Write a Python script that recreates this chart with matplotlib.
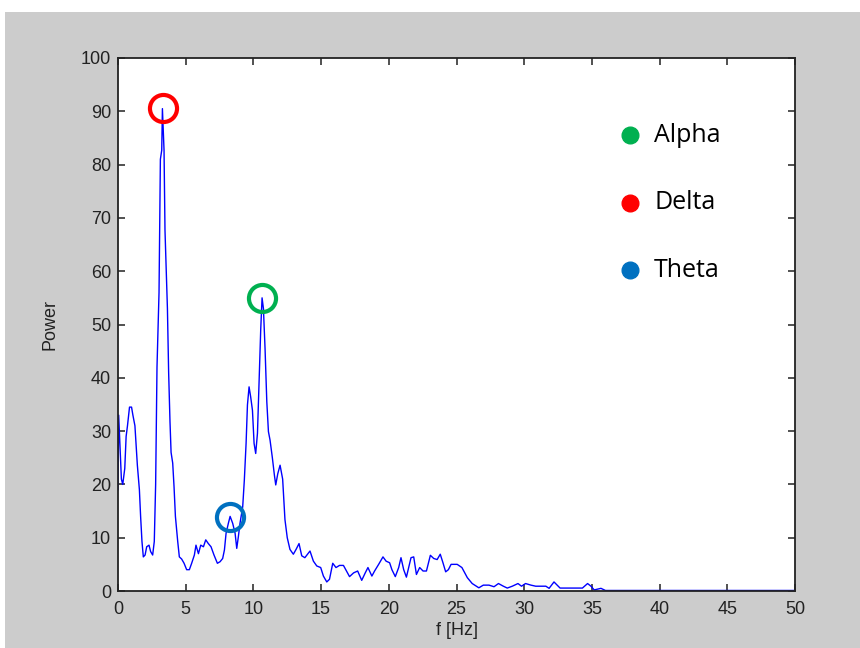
import matplotlib.pyplot as plt
from matplotlib.patches import Rectangle

# spectrum (Hz, power)
freq = [0.0, 0.05, 0.15, 0.25, 0.35, 0.5, 0.6, 0.7, 0.85, 1.0, 1.1, 1.25, 1.33, 1.43,
        1.58, 1.67, 1.77, 1.87, 2.0, 2.12, 2.29, 2.41, 2.56, 2.68, 2.78, 2.88, 3.03,
        3.13, 3.23, 3.28, 3.4, 3.47, 3.65, 3.74, 3.84, 3.92, 4.04, 4.14, 4.24, 4.41,
        4.53, 4.7, 4.88, 5.07, 5.27, 5.44, 5.64, 5.76, 5.94, 6.11, 6.31, 6.48, 6.67,
        6.87, 7.09, 7.34, 7.54, 7.73, 7.86, 7.98, 8.15, 8.28, 8.47, 8.65, 8.77, 8.89,
        9.01, 9.21, 9.33, 9.46, 9.56, 9.68, 9.8, 9.93, 10.05, 10.17, 10.3, 10.42,
        10.54, 10.64, 10.74, 10.86, 10.99, 11.11, 11.23, 11.4, 11.55, 11.65, 11.8,
        11.97, 12.16, 12.33, 12.5, 12.7, 12.95, 13.15, 13.37, 13.57, 13.8, 14.18,
        14.43, 14.68, 14.97, 15.17, 15.42, 15.62, 15.86, 16.1, 16.36, 16.65, 17.1,
        17.4, 17.7, 18.0, 18.26, 18.46, 18.75, 18.95, 19.25, 19.57, 19.8, 20.06,
        20.23, 20.48, 20.73, 20.9, 21.1, 21.3, 21.47, 21.64, 21.84, 22.04, 22.28,
        22.53, 22.78, 23.07, 23.32, 23.57, 23.8, 24.0, 24.2, 24.4, 24.6, 25.05,
        25.4, 25.8, 26.16, 26.65, 26.98, 27.4, 27.77, 28.1, 28.46, 28.75, 29.12,
        29.54, 29.8, 30.1, 30.5, 30.85, 31.6, 31.84, 32.2, 32.65, 33.44, 34.3,
        34.68, 34.93, 35.17, 35.67, 36.0, 40.0, 45.0, 50.0]
power = [19, 33, 27, 21, 20, 23, 29, 31, 34.5, 34.5, 33, 31, 27.7, 23.6,
         19, 14, 9.3, 6.4, 6.75, 8.3, 8.6, 7.4, 6.75, 9.3, 20, 42, 56,
         81, 82.7, 90.5, 82.7, 67.7, 53, 41, 31.75, 26, 24, 19.5, 14, 9.3,
         6.4, 6, 5.2, 4, 4, 5.2, 6.75, 8.6, 7, 8.6, 8.3, 9.6, 8.9,
         8.3, 6.75, 5.2, 5.5, 6.1, 7.7, 10.8, 12.7, 14, 12.7, 10.8, 8, 10.2,
         12.7, 15.8, 20.8, 27.7, 34.9, 38.3, 36.4, 33.9, 27.7, 25.8, 29.6, 39,
         49, 55, 53, 45.5, 35.5, 29.9, 28.3, 25, 21.75, 19.9, 22,
         23.6, 21, 13.4, 10, 7.8, 6.9, 7.8, 8.9, 6.6, 6.25, 7.5,
         5.6, 4.7, 4.4, 2.8, 1.7, 2.2, 5.2, 4.4, 4.8, 4.8, 2.7,
         3.4, 3.75, 2, 3.4, 4.4, 2.8, 3.75, 5, 6.4, 5.6, 5.3,
         4, 2.7, 4.4, 6.25, 4, 2.6, 4.4, 6.25, 6.4, 3.1, 4.4,
         3.75, 3.75, 6.7, 6.1, 5.9, 6.9, 5.3, 3.6, 4, 5, 5,
         4.4, 2.5, 1.4, 0.6, 1.1, 1.1, 0.8, 1.4, 0.9, 0.55, 0.9,
         1.4, 0.9, 1.4, 1.1, 0.9, 0.9, 0.5, 1.7, 0.55, 0.55, 0.55,
         1.4, 0.9, 0.2, 0.5, 0.1, 0.1, 0.1, 0.1]

# marked peaks: band, (Hz, power), colour
bands = ['Alpha', 'Delta', 'Theta']
peak_f = [10.63, 3.32, 8.27]
peak_p = [55, 90.6, 13.9]
band_colors = ['#00b050', '#ff0000', '#0070c0']

fig = plt.figure(figsize=(8.6, 6.48), dpi=100)
fig.patch.set_facecolor('white')
# grey matlab figure background
fig.patches.append(Rectangle((5 / 860, 0), 1, 1 - 12 / 648, transform=fig.transFigure,
                             facecolor='#cccccc', edgecolor='none', zorder=-10))

ax = fig.add_axes([118 / 860, 1 - 591 / 648, (795 - 118) / 860, (591 - 58) / 648])
ax.plot(freq, power, color='#0000ff', lw=1.0)

for f, p, c in zip(peak_f, peak_p, band_colors):
    ax.plot(f, p, 'o', ms=19.5, mfc='none', mec=c, mew=3, zorder=5)

ax.set_xlim(0, 50)
ax.set_ylim(0, 100)
ax.set_xticks(range(0, 51, 5))
ax.set_yticks(range(0, 101, 10))

tick_font = {'family': ['Liberation Sans', 'DejaVu Sans'], 'size': 13}
ax.set_xticklabels([str(v) for v in range(0, 51, 5)], fontdict=tick_font, color='#222222')
ax.set_yticklabels([str(v) for v in range(0, 101, 10)], fontdict=tick_font, color='#222222')
ax.tick_params(direction='in', top=True, right=True, length=5, width=1.2, color='#333333')
ax.tick_params(axis='x', pad=7)
ax.tick_params(axis='y', pad=5)
for s in ax.spines.values():
    s.set_linewidth(1.3)
    s.set_color('#222222')

ax.set_xlabel('f [Hz]', fontdict=tick_font, color='#222222', labelpad=3)
ax.set_ylabel('Power', fontdict=tick_font, color='#222222', labelpad=16)

# legend made of dots and text, as on the slide
legend_y = [0.855, 0.728, 0.602]
for name, c, y in zip(bands, band_colors, legend_y):
    ax.plot(0.757, y, 'o', ms=12, color=c, transform=ax.transAxes, clip_on=False)
    ax.text(0.792, y, name, transform=ax.transAxes, fontsize=18,
            family=['Open Sans', 'DejaVu Sans'], va='center', ha='left', color='black')

fig.savefig('out.png', dpi=100)
